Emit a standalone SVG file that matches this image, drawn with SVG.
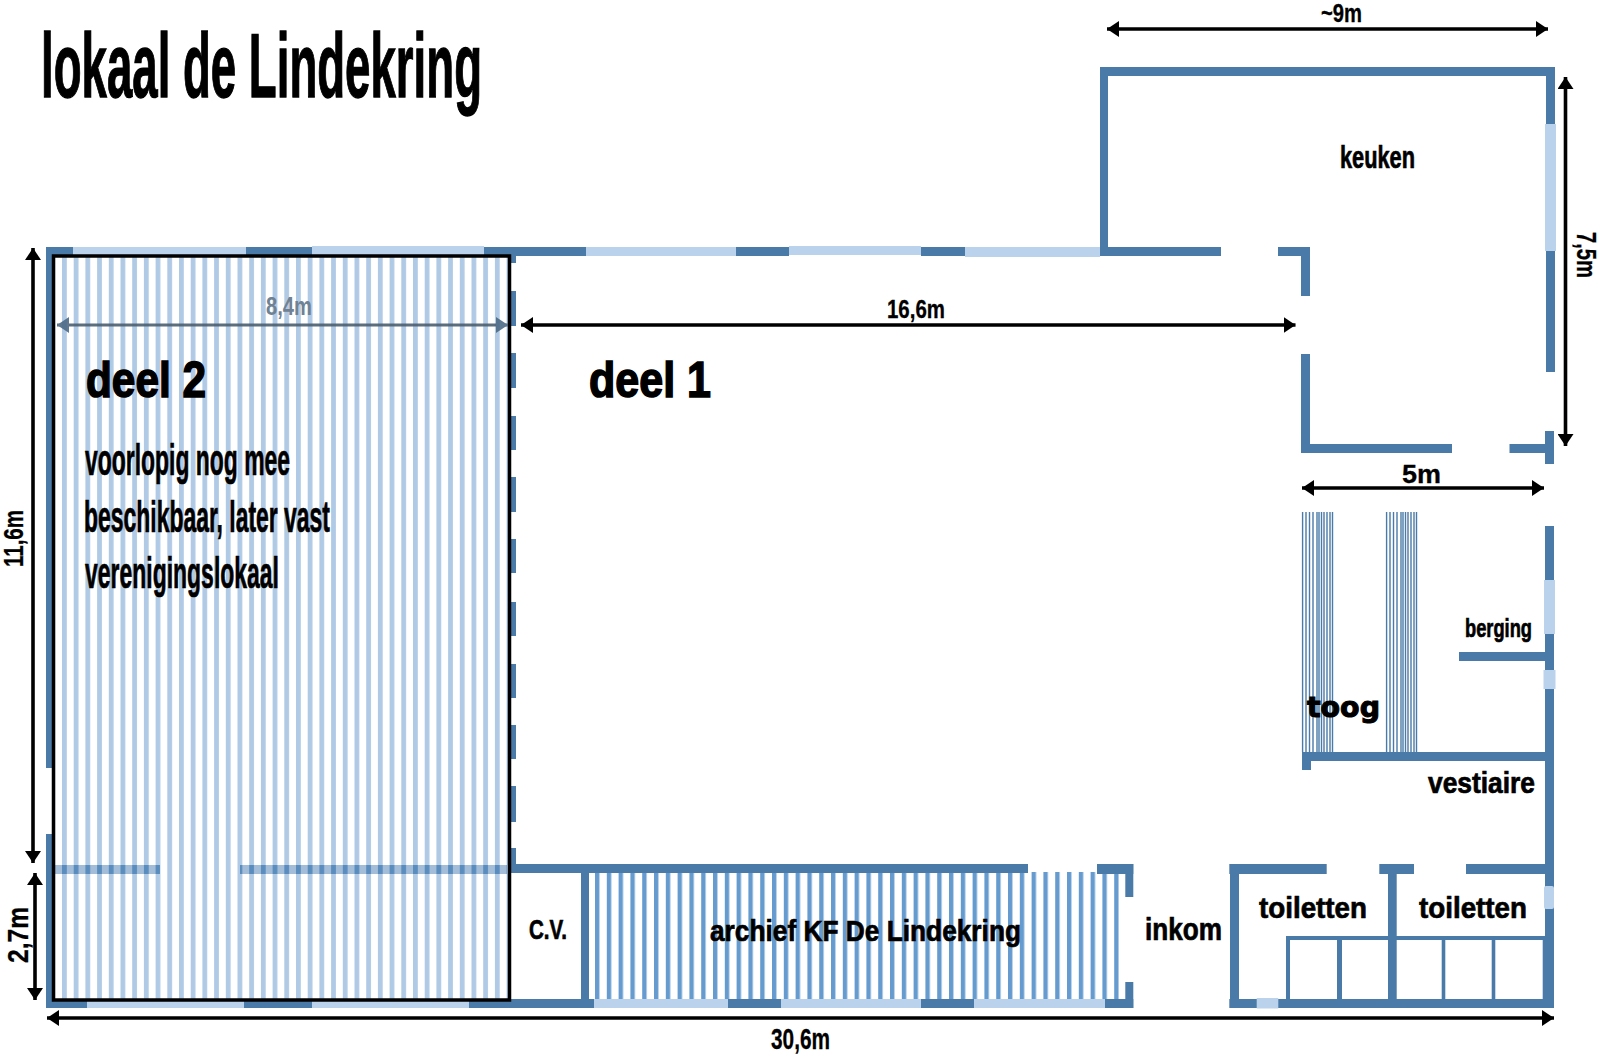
<svg xmlns="http://www.w3.org/2000/svg" width="1600" height="1056" viewBox="0 0 1600 1056">
<defs>
<style>
.w{fill:#4a7ba8}
.l{fill:#bad2ec}
.t{font-family:"Liberation Sans",Arial,sans-serif;font-weight:bold;fill:#000;stroke:#000;stroke-width:.7}
.a{stroke:#000;stroke-width:3.600;fill:none;marker-start:url(#h);marker-end:url(#h)}
.bar{stroke:#4a7ba8;stroke-width:1.4}
</style>
<marker id="h" markerUnits="userSpaceOnUse" markerWidth="13" markerHeight="16" refX="12" refY="8" orient="auto-start-reverse"><path d="M0 0L12 8L0 16Z" fill="#000"/></marker>
<marker id="hg" markerUnits="userSpaceOnUse" markerWidth="13" markerHeight="16" refX="12" refY="8" orient="auto-start-reverse"><path d="M0 0L12 8L0 16Z" fill="#4c6a86"/></marker>
<pattern id="s2" patternUnits="userSpaceOnUse" x="62" y="0" width="11.7" height="10"><rect width="4.8" height="10" fill="#b0cae6"/></pattern>
<pattern id="s2d" patternUnits="userSpaceOnUse" x="62" y="0" width="11.7" height="10"><rect width="4.8" height="10" fill="#5a8dbe"/></pattern>
<pattern id="sa" patternUnits="userSpaceOnUse" x="595" y="0" width="11.8" height="10"><rect width="4.4" height="10" fill="#659bce"/></pattern>
<g id="bar"><path class="bar" d="M.6 0V240M4 0V240M7.5 0V240M11 0V240M15 0V240M17 0V240M19.5 0V240M22 0V240M25 0V240M28 0V240M30.5 0V240"/></g>
</defs>
<rect width="1600" height="1056" fill="#fff"/>
<g id="deel2-vloer"><rect x="54" y="257" width="454" height="742" fill="url(#s2)"/></g>
<g id="archief-vloer"><rect x="595" y="872" width="524" height="127" fill="url(#sa)"/></g>
<g id="toog-vloer"><use href="#bar" x="1302" y="512"/><use href="#bar" x="1386" y="512"/></g>
<g id="muren">
<rect class="w" x="46" y="247" width="438" height="9"/>
<rect class="l" x="73" y="247" width="173" height="9"/>
<rect class="l" x="312" y="246" width="172" height="9"/>
<rect class="w" x="484" y="247" width="102" height="9"/>
<rect class="l" x="586" y="247" width="150" height="9"/>
<rect class="w" x="736" y="247" width="53" height="9"/>
<rect class="l" x="789" y="246" width="132" height="9"/>
<rect class="w" x="921" y="247" width="44" height="9"/>
<rect class="l" x="965" y="247" width="135" height="10"/>
<rect class="w" x="46" y="247" width="6" height="521"/>
<rect class="w" x="46" y="834" width="6" height="174"/>
<rect class="w" x="511" y="256" width="5" height="7"/>
<rect class="w" x="511" y="291" width="5" height="35"/>
<rect class="w" x="511" y="353" width="5" height="35"/>
<rect class="w" x="511" y="416" width="5" height="34"/>
<rect class="w" x="511" y="477" width="5" height="35"/>
<rect class="w" x="511" y="539" width="5" height="34"/>
<rect class="w" x="511" y="602" width="5" height="34"/>
<rect class="w" x="511" y="664" width="5" height="34"/>
<rect class="w" x="511" y="725" width="5" height="34"/>
<rect class="w" x="511" y="786" width="5" height="36"/>
<rect class="w" x="511" y="848" width="5" height="25"/>
<rect x="54.500" y="865" width="105.500" height="9" fill="#a3bdd9"/>
<rect x="54.500" y="865" width="105.500" height="9" fill="url(#s2d)"/>
<rect x="240" y="865" width="267" height="9" fill="#a3bdd9"/>
<rect x="240" y="865" width="267" height="9" fill="url(#s2d)"/>
<rect class="w" x="511" y="864" width="517" height="9"/>
<rect class="w" x="1097" y="864" width="36.300" height="10"/>
<rect class="w" x="1125.300" y="864" width="8" height="33"/>
<rect class="w" x="1125.300" y="982" width="8" height="26"/>
<rect class="w" x="581" y="864" width="8" height="136"/>
<rect class="w" x="46" y="1000" width="41" height="8"/>
<rect class="l" x="87" y="1000" width="157" height="8"/>
<rect class="w" x="244" y="1000" width="68" height="8"/>
<rect class="l" x="312" y="1000" width="157" height="8"/>
<rect class="w" x="469" y="999" width="125" height="9"/>
<rect class="l" x="594" y="999" width="134" height="9"/>
<rect class="w" x="728" y="999" width="53" height="9"/>
<rect class="l" x="781" y="999" width="140" height="9"/>
<rect class="w" x="921" y="999" width="53" height="9"/>
<rect class="l" x="974" y="999" width="131" height="9"/>
<rect class="w" x="1105" y="999" width="28.300" height="9"/>
<rect class="w" x="1100" y="67" width="455" height="9"/>
<rect class="w" x="1100" y="67" width="8" height="189"/>
<rect class="w" x="1100" y="247" width="121" height="9"/>
<rect class="w" x="1278" y="247" width="32" height="9"/>
<rect class="w" x="1301" y="247" width="9" height="49"/>
<rect class="w" x="1301" y="354" width="9" height="99"/>
<rect class="w" x="1301" y="444" width="151" height="9"/>
<rect class="w" x="1509.500" y="444" width="36" height="9"/>
<rect class="w" x="1545" y="431" width="9" height="33"/>
<rect class="w" x="1546" y="67" width="9" height="57"/>
<rect class="l" x="1545" y="124" width="11" height="127"/>
<rect class="w" x="1546" y="251" width="9" height="121"/>
<rect class="w" x="1302" y="752" width="243" height="9"/>
<rect class="w" x="1302" y="752" width="9" height="18"/>
<rect class="w" x="1459" y="652" width="86" height="9"/>
<rect class="w" x="1545" y="526" width="9" height="482"/>
<rect class="l" x="1544" y="580" width="11" height="54"/>
<rect class="l" x="1543.500" y="670" width="12" height="19"/>
<rect class="w" x="1229.300" y="864" width="97.400" height="10"/>
<rect class="w" x="1379.300" y="864" width="34.700" height="10"/>
<rect class="w" x="1466" y="864" width="79" height="10"/>
<rect class="w" x="1230" y="864" width="9" height="144"/>
<rect class="w" x="1229.300" y="999" width="324.700" height="9"/>
<rect class="l" x="1256.700" y="998" width="21.600" height="10.500"/>
<rect class="w" x="1388" y="864" width="8.700" height="136"/>
<rect class="l" x="1544" y="886" width="10" height="23" rx="2"/>
<rect class="w" x="1286" y="936" width="259" height="4"/>
<rect class="w" x="1286" y="936" width="4" height="64"/>
<rect class="w" x="1337" y="936" width="5" height="64"/>
<rect class="w" x="1441.700" y="936" width="3.600" height="64"/>
<rect class="w" x="1491.700" y="936" width="3.600" height="64"/>
<rect class="w" x="1542.700" y="936" width="3" height="64"/>
</g>
<g id="deel2-kader"><rect x="53.500" y="256" width="456" height="744" fill="none" stroke="#000" stroke-width="3.500"/></g>
<g id="maatlijnen">
<path class="a" d="M1107 29H1548"/>
<path class="a" d="M1565.500 77V446"/>
<path class="a" d="M521 325H1295.500"/>
<path class="a" d="M1302 488H1544"/>
<path class="a" d="M33 248V863"/>
<path class="a" d="M35 873V1000"/>
<path class="a" d="M47 1018H1554"/>
<path d="M57 325H508" fill="none" stroke="#4c5f70" stroke-width="3.200" opacity=".9" marker-start="url(#hg)" marker-end="url(#hg)"/>
</g>
<g id="labels">
<text class="t" x="41" y="97" font-size="90" textLength="441" lengthAdjust="spacingAndGlyphs" style="stroke-width:1.300">lokaal de Lindekring</text>
<text class="t" x="86" y="397" font-size="50" textLength="120" lengthAdjust="spacingAndGlyphs" style="stroke-width:1.600">deel 2</text>
<text class="t" x="589" y="397" font-size="50" textLength="122" lengthAdjust="spacingAndGlyphs" style="stroke-width:1.600">deel 1</text>
<text class="t" x="85" y="475" font-size="44" textLength="205" lengthAdjust="spacingAndGlyphs">voorlopig nog mee</text>
<text class="t" x="84" y="532" font-size="44" textLength="246" lengthAdjust="spacingAndGlyphs">beschikbaar, later vast</text>
<text class="t" x="85" y="588" font-size="44" textLength="194" lengthAdjust="spacingAndGlyphs">verenigingslokaal</text>
<text class="t" x="266" y="315" font-size="25" textLength="46" lengthAdjust="spacingAndGlyphs" style="fill:#6f8294;stroke:none">8,4m</text>
<text class="t" x="887" y="318" font-size="26" textLength="58" lengthAdjust="spacingAndGlyphs" style="stroke-width:.3">16,6m</text>
<text class="t" x="1321" y="22" font-size="25" textLength="41" lengthAdjust="spacingAndGlyphs" style="stroke-width:.3">~9m</text>
<text class="t" x="1340" y="168" font-size="31" textLength="75" lengthAdjust="spacingAndGlyphs">keuken</text>
<text class="t" transform="translate(1577 232) rotate(90)" font-size="27" textLength="46" lengthAdjust="spacingAndGlyphs" style="stroke-width:.3">7,5m</text>
<text class="t" x="1402" y="483" font-size="25" textLength="39" lengthAdjust="spacingAndGlyphs" style="stroke-width:.3">5m</text>
<text class="t" x="1465" y="637" font-size="26" textLength="67" lengthAdjust="spacingAndGlyphs">berging</text>
<text x="1307" y="717" font-family="'DejaVu Sans',sans-serif" font-weight="bold" font-size="29" textLength="73" lengthAdjust="spacingAndGlyphs" stroke="#000" stroke-width="1.100">toog</text>
<text class="t" x="1428" y="793" font-size="29" textLength="107" lengthAdjust="spacingAndGlyphs">vestiaire</text>
<text class="t" x="1259" y="918" font-size="30" textLength="108" lengthAdjust="spacingAndGlyphs">toiletten</text>
<text class="t" x="1419" y="918" font-size="30" textLength="108" lengthAdjust="spacingAndGlyphs">toiletten</text>
<text class="t" x="1145" y="940" font-size="31" textLength="77" lengthAdjust="spacingAndGlyphs">inkom</text>
<text class="t" x="529" y="939" font-size="27" textLength="38" lengthAdjust="spacingAndGlyphs">C.V.</text>
<text class="t" x="710" y="941" font-size="30" textLength="311" lengthAdjust="spacingAndGlyphs">archief KF De Lindekring</text>
<text class="t" x="771" y="1049" font-size="29" textLength="59" lengthAdjust="spacingAndGlyphs" style="stroke-width:.3">30,6m</text>
<text class="t" transform="translate(23 567) rotate(-90)" font-size="27" textLength="57" lengthAdjust="spacingAndGlyphs" style="stroke-width:.3">11,6m</text>
<text class="t" transform="translate(28 963) rotate(-90)" font-size="30" textLength="56" lengthAdjust="spacingAndGlyphs" style="stroke-width:.3">2,7m</text>
</g>
</svg>
